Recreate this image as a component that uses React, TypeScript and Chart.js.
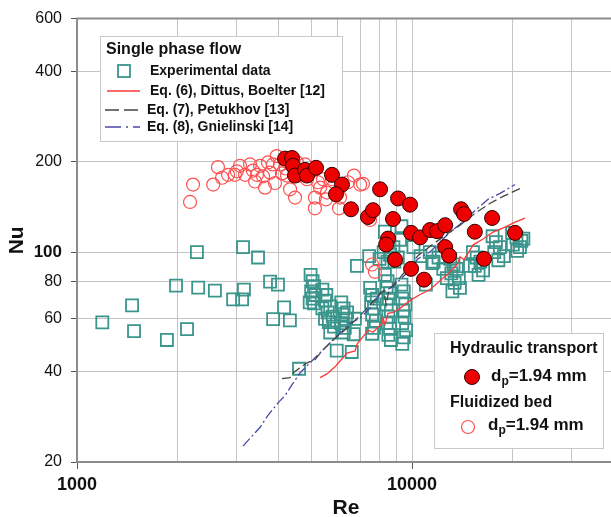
import React, { useEffect, useRef } from 'react';
import { Chart, registerables } from 'chart.js';

Chart.register(...registerables);

const FONT = '"Liberation Sans", Arial, Helvetica, sans-serif';

// ---- axes ----
const xTicks = [1000, 2000, 3000, 4000, 5000, 6000, 7000, 8000, 9000, 10000, 20000, 30000, 40000];
const xLabelled = [1000, 10000];
const yTicks = [20, 40, 60, 80, 100, 200, 400, 600];
const yBold = [100];
const xTitle = 'Re';
const yTitle = 'Nu';

// ---- data: [Re, Nu] ----
const experimental: number[][] = [
  [1190, 58.4], [1460, 66.5], [1480, 54.6], [1855, 51], [2130, 55.4], [1975, 77.4], [2280, 100],
  [2300, 76.2], [2580, 74.5], [2925, 69.6], [3110, 69.6], [3150, 75], [3130, 104], [3470, 96],
  [3770, 79.8], [3980, 78], [3850, 59.8], [4150, 65.5], [4320, 59.3], [4600, 40.9],
  [4980, 84], [5050, 80], [5100, 77], [5000, 74], [5150, 72], [5050, 70], [5100, 67.5], [4950, 68],
  [5400, 75], [5550, 72], [5500, 69], [5700, 66], [5600, 63], [5800, 61], [5650, 58.5], [5850, 56.5],
  [5700, 54], [5500, 60], [5400, 65],
  [6150, 68], [6250, 65], [6200, 62], [6350, 60], [6150, 58], [6300, 56], [6250, 54], [6400, 63],
  [5960, 47], [6610, 46.5], [6700, 53.3], [6750, 60], [6850, 90],
  [7500, 76], [7600, 72], [7550, 68], [7700, 65], [7600, 62], [7800, 59], [7700, 56], [7600, 53.5],
  [7850, 70], [7450, 97], [8000, 95],
  [8300, 84], [8450, 80], [8400, 76], [8600, 73], [8500, 70], [8400, 67], [8650, 64], [8500, 61],
  [8400, 58], [8600, 55.5], [8500, 53], [8650, 51], [8600, 98],
  [9300, 78], [9450, 74], [9350, 70], [9550, 67], [9400, 64], [9500, 61], [9350, 58], [9600, 55],
  [9450, 52], [9350, 49.5],
  [8300, 117], [8530, 108], [8230, 100], [8800, 104], [9070, 96], [8450, 93], [9210, 110], [8860, 93], [9300, 122],
  [10100, 104], [10600, 97], [11300, 100], [12000, 96], [11600, 93], [11000, 78], [11500, 92],
  [13000, 95], [13300, 91], [13600, 88], [13100, 85], [13800, 82], [13400, 79], [13900, 76], [13200, 74],
  [12400, 88], [12700, 82],
  [15200, 100], [15600, 96], [16000, 93], [15400, 90], [16300, 87], [15800, 84], [14900, 90],
  [17400, 113], [17800, 108], [18300, 104], [17600, 100], [18800, 97], [18100, 94],
  [19900, 116], [20500, 112], [21200, 109], [20000, 106], [21000, 104], [20600, 101], [21500, 111],
];

const fluidizedBed: number[][] = [
  [2175, 147], [2220, 168], [2550, 168], [2635, 192], [2710, 177], [2825, 181], [2960, 181], [3000, 186],
  [3065, 194], [3175, 181], [3285, 196], [3350, 187], [3400, 172], [3445, 181], [3520, 194], [3590, 179],
  [3640, 164], [3715, 199], [3770, 184], [3845, 196], [3900, 170], [3945, 209], [4035, 196], [4090, 183],
  [4200, 190], [4235, 180], [4325, 162], [4475, 152], [4535, 199], [4630, 180], [4795, 196], [4860, 175],
  [4950, 185], [5130, 140], [5130, 152], [5240, 171], [5315, 164], [5425, 175], [5535, 150], [5575, 158],
  [5770, 175], [6055, 140], [6100, 152], [6440, 171], [6710, 180], [7000, 168], [7140, 169], [7495, 128],
  [7600, 91], [7750, 86],
];

const hydraulicTransport: number[][] = [
  [4180, 205], [4385, 206], [4415, 194], [4475, 180], [4795, 188], [4860, 180], [5170, 191], [5770, 181],
  [6180, 168], [5930, 156], [6575, 139], [7390, 131], [7650, 138], [8030, 162], [9085, 151], [9865, 144],
  [8775, 129], [9935, 116], [10570, 112], [11320, 118.5], [11875, 117.5], [12560, 123], [14010, 139],
  [14300, 134], [15400, 117], [17340, 130], [20300, 116], [8485, 111], [8370, 106], [8900, 94.4],
  [9935, 88], [10860, 81], [12560, 104], [12900, 97.4], [16400, 95],
];

const dittusBoelter: number[][] = [
  [5314, 38.2], [5574, 39.3], [5890, 41.5], [6100, 43.4], [6395, 46.1], [6760, 46.9], [6855, 49.4],
  [7240, 53.3], [7390, 55], [7650, 54.1], [7860, 55.8], [8140, 58], [8195, 60.2], [8310, 57.4],
  [8480, 62.6], [8780, 63], [9210, 65], [9865, 69.1], [10570, 72.3], [11320, 75.1], [12730, 84.2],
  [13620, 90.8], [13910, 96.6], [14300, 94.4], [15230, 105.8], [16300, 110.6], [17460, 116.7],
  [18960, 121.2], [20300, 125.9], [21750, 129.8],
];

const petukhov: number[][] = [
  [4090, 37.9], [4325, 38.2], [4415, 39.6], [4630, 41.2], [4860, 42.8], [5130, 43.8], [5390, 46.9],
  [5810, 51], [6395, 55.8], [7140, 63], [7650, 68.5], [8030, 72.8], [8250, 74.5], [8370, 66.9],
  [8540, 75.1], [9210, 82.3], [10420, 97.4], [11480, 105.8], [12730, 115], [13910, 123],
  [15430, 134.8], [17100, 145.5], [18700, 153.4], [21310, 164.2],
];

const gnielinski: number[][] = [
  [3130, 22.6], [3330, 24.4], [3520, 26.1], [3715, 28.6], [3995, 31.6], [4180, 33.3], [4385, 36.2],
  [4630, 39.6], [4960, 42.8], [5500, 48], [6100, 53.7], [6530, 58], [7000, 60.2], [7650, 66.9],
  [8030, 72.8], [8780, 76.8], [9730, 86.1], [10420, 95.1], [11320, 100.2], [12730, 114], [13910, 124],
  [15220, 135.8], [16860, 150], [18320, 157], [20300, 168],
];

// ---- legend texts ----
const singlePhaseTitle = 'Single phase flow';
const singlePhaseItems = [
  'Experimental data',
  'Eq. (6), Dittus, Boelter [12]',
  'Eq. (7), Petukhov [13]',
  'Eq. (8), Gnielinski [14]',
];
const hydraulicTitle = 'Hydraulic transport';
const fluidizedTitle = 'Fluidized bed';
const diameterParts = ['d', 'p', '=1.94 mm'];

// ---- colours ----
const TEAL = '#3a958c';
const RED_OPEN = '#ff5050';
const RED_FILL = '#ee0000';
const RED_LINE = '#ff3838';
const GRAY_LINE = '#444444';
const BLUE_LINE = '#4848a8';
const AXIS = '#8c8c8c';
const GRID = '#c4c4c4';

const toXY = (arr: number[][]) => arr.map(([x, y]) => ({ x, y }));

const decorPlugin = {
  id: 'decor',
  afterDraw(chart: any) {
    const { ctx, chartArea: a } = chart;
    ctx.save();
    // top & right frame
    ctx.strokeStyle = AXIS;
    ctx.lineWidth = 2;
    ctx.beginPath();
    ctx.moveTo(a.left - 1, a.top);
    ctx.lineTo(a.right, a.top);
    ctx.lineTo(a.right, a.bottom);
    ctx.stroke();

    // axis titles
    ctx.fillStyle = '#111';
    ctx.font = `bold 21px ${FONT}`;
    ctx.textAlign = 'center';
    ctx.textBaseline = 'middle';
    ctx.fillText(xTitle, 346, 508);
    ctx.save();
    ctx.translate(17, (a.top + a.bottom) / 2);
    ctx.rotate(-Math.PI / 2);
    ctx.fillText(yTitle, 0, 0);
    ctx.restore();

    // legend 1
    ctx.fillStyle = '#fff';
    ctx.fillRect(100, 36, 242, 105);
    ctx.strokeStyle = '#c8c8c8';
    ctx.lineWidth = 1;
    ctx.strokeRect(100.5, 36.5, 242, 105);
    ctx.textAlign = 'left';
    ctx.textBaseline = 'middle';
    ctx.fillStyle = '#111';
    ctx.font = `bold 16px ${FONT}`;
    ctx.fillText(singlePhaseTitle, 106, 50);
    ctx.font = `bold 14px ${FONT}`;
    // square
    ctx.strokeStyle = TEAL;
    ctx.lineWidth = 1.8;
    ctx.strokeRect(118, 65, 12, 12);
    ctx.fillText(singlePhaseItems[0], 150, 71);
    // red line
    ctx.strokeStyle = RED_LINE;
    ctx.lineWidth = 1.3;
    ctx.beginPath(); ctx.moveTo(107, 91); ctx.lineTo(140, 91); ctx.stroke();
    ctx.fillText(singlePhaseItems[1], 150, 91);
    // gray dashed
    ctx.strokeStyle = GRAY_LINE;
    ctx.setLineDash([14, 5]);
    ctx.beginPath(); ctx.moveTo(105, 110); ctx.lineTo(139, 110); ctx.stroke();
    ctx.fillText(singlePhaseItems[2], 147, 110);
    // blue dash-dot
    ctx.strokeStyle = BLUE_LINE;
    ctx.setLineDash([16, 5, 2, 5]);
    ctx.beginPath(); ctx.moveTo(105, 127); ctx.lineTo(140, 127); ctx.stroke();
    ctx.setLineDash([]);
    ctx.fillText(singlePhaseItems[3], 147, 127);

    // legend 2
    ctx.fillStyle = '#fff';
    ctx.fillRect(434, 333, 169, 115);
    ctx.strokeStyle = '#c8c8c8';
    ctx.lineWidth = 1;
    ctx.strokeRect(434.5, 333.5, 169, 115);
    ctx.fillStyle = '#111';
    ctx.font = `bold 16px ${FONT}`;
    ctx.fillText(hydraulicTitle, 450, 349);
    ctx.fillText(fluidizedTitle, 450, 403);

    // filled marker
    ctx.beginPath();
    ctx.arc(472, 377, 7.5, 0, Math.PI * 2);
    ctx.fillStyle = RED_FILL;
    ctx.fill();
    ctx.strokeStyle = '#330000';
    ctx.lineWidth = 1;
    ctx.stroke();
    // open marker
    ctx.beginPath();
    ctx.arc(468, 427, 6.5, 0, Math.PI * 2);
    ctx.strokeStyle = RED_OPEN;
    ctx.lineWidth = 1.2;
    ctx.stroke();

    const drawDiameter = (x: number, y: number) => {
      ctx.fillStyle = '#111';
      ctx.font = `bold 17px ${FONT}`;
      ctx.fillText(diameterParts[0], x, y);
      const w1 = ctx.measureText(diameterParts[0]).width;
      ctx.font = `bold 12px ${FONT}`;
      ctx.fillText(diameterParts[1], x + w1, y + 6);
      const w2 = ctx.measureText(diameterParts[1]).width;
      ctx.font = `bold 17px ${FONT}`;
      ctx.fillText(diameterParts[2], x + w1 + w2, y);
    };
    drawDiameter(491, 376);
    drawDiameter(488, 425);

    ctx.restore();
  },
};

export default function App() {
  const ref = useRef<HTMLCanvasElement | null>(null);

  useEffect(() => {
    if (!ref.current) return;
    const chart = new Chart(ref.current, {
      type: 'scatter',
      data: {
        datasets: [
          {
            label: 'Hydraulic transport',
            data: toXY(hydraulicTransport),
            pointStyle: 'circle',
            pointRadius: 7.5,
            backgroundColor: RED_FILL,
            borderColor: '#330000',
            borderWidth: 1,
            order: 0,
          },
          {
            label: 'Fluidized bed',
            data: toXY(fluidizedBed),
            pointStyle: 'circle',
            pointRadius: 6.5,
            backgroundColor: 'rgba(0,0,0,0)',
            borderColor: RED_OPEN,
            borderWidth: 1.2,
            order: 1,
          },
          {
            label: singlePhaseItems[1],
            data: toXY(dittusBoelter),
            showLine: true,
            pointRadius: 0,
            borderColor: RED_LINE,
            borderWidth: 1.3,
            order: 2,
          },
          {
            label: singlePhaseItems[2],
            data: toXY(petukhov),
            showLine: true,
            pointRadius: 0,
            borderColor: GRAY_LINE,
            borderWidth: 1.3,
            borderDash: [9, 4],
            order: 3,
          },
          {
            label: singlePhaseItems[3],
            data: toXY(gnielinski),
            showLine: true,
            pointRadius: 0,
            borderColor: BLUE_LINE,
            borderWidth: 1.3,
            borderDash: [10, 3, 2, 3],
            order: 4,
          },
          {
            label: singlePhaseItems[0],
            data: toXY(experimental),
            pointStyle: 'rect',
            pointRadius: 8.5,
            backgroundColor: 'rgba(0,0,0,0)',
            borderColor: TEAL,
            borderWidth: 1.8,
            order: 5,
          },
        ],
      },
      options: {
        animation: false,
        responsive: false,
        devicePixelRatio: 1,
        layout: { padding: { top: 15, right: 6, left: 0, bottom: 0 } },
        plugins: { legend: { display: false }, tooltip: { enabled: false } },
        scales: {
          x: {
            type: 'logarithmic',
            min: 1000,
            max: 40000,
            afterBuildTicks: (s: any) => {
              s.ticks = xTicks.map((v) => ({ value: v }));
            },
            afterFit: (s: any) => {
              s.height = 55;
            },
            ticks: {
              autoSkip: false,
              maxRotation: 0,
              minRotation: 0,
              padding: 5,
              color: '#111',
              font: { family: FONT, size: 18, weight: 'bold' },
              callback: (v: any) => (xLabelled.includes(Number(v)) ? String(v) : ''),
            },
            grid: {
              color: (c: any) =>
                c.tick && (c.tick.value === 1000 || c.tick.value === 40000) ? 'rgba(0,0,0,0)' : GRID,
              lineWidth: 1,
              tickLength: 7,
              tickColor: (c: any) => (c.tick && xLabelled.includes(c.tick.value) ? '#555' : 'rgba(0,0,0,0)'),
            },
            border: { color: AXIS, width: 2 },
          },
          y: {
            type: 'logarithmic',
            min: 20,
            max: 600,
            afterBuildTicks: (s: any) => {
              s.ticks = yTicks.map((v) => ({ value: v }));
            },
            afterFit: (s: any) => {
              s.width = 77;
            },
            ticks: {
              autoSkip: false,
              padding: 9,
              color: '#111',
              font: (c: any) =>
                c.tick && yBold.includes(c.tick.value)
                  ? { family: FONT, size: 17, weight: 'bold' }
                  : { family: FONT, size: 16, weight: 'normal' },
              callback: (v: any) => String(v),
            },
            grid: {
              color: (c: any) =>
                c.tick && (c.tick.value === 20 || c.tick.value === 600) ? 'rgba(0,0,0,0)' : GRID,
              lineWidth: 1,
              tickLength: 6,
              tickColor: '#555',
            },
            border: { color: AXIS, width: 2 },
          },
        },
      } as any,
      plugins: [decorPlugin],
    });
    return () => chart.destroy();
  }, []);

  return (
    <div
      style={{
        position: 'fixed',
        left: 0,
        top: 0,
        width: 611,
        height: 517,
        overflow: 'hidden',
        background: '#fff',
      }}
    >
      <canvas ref={ref} width={624} height={517} style={{ width: 624, height: 517, display: 'block' }} />
    </div>
  );
}
